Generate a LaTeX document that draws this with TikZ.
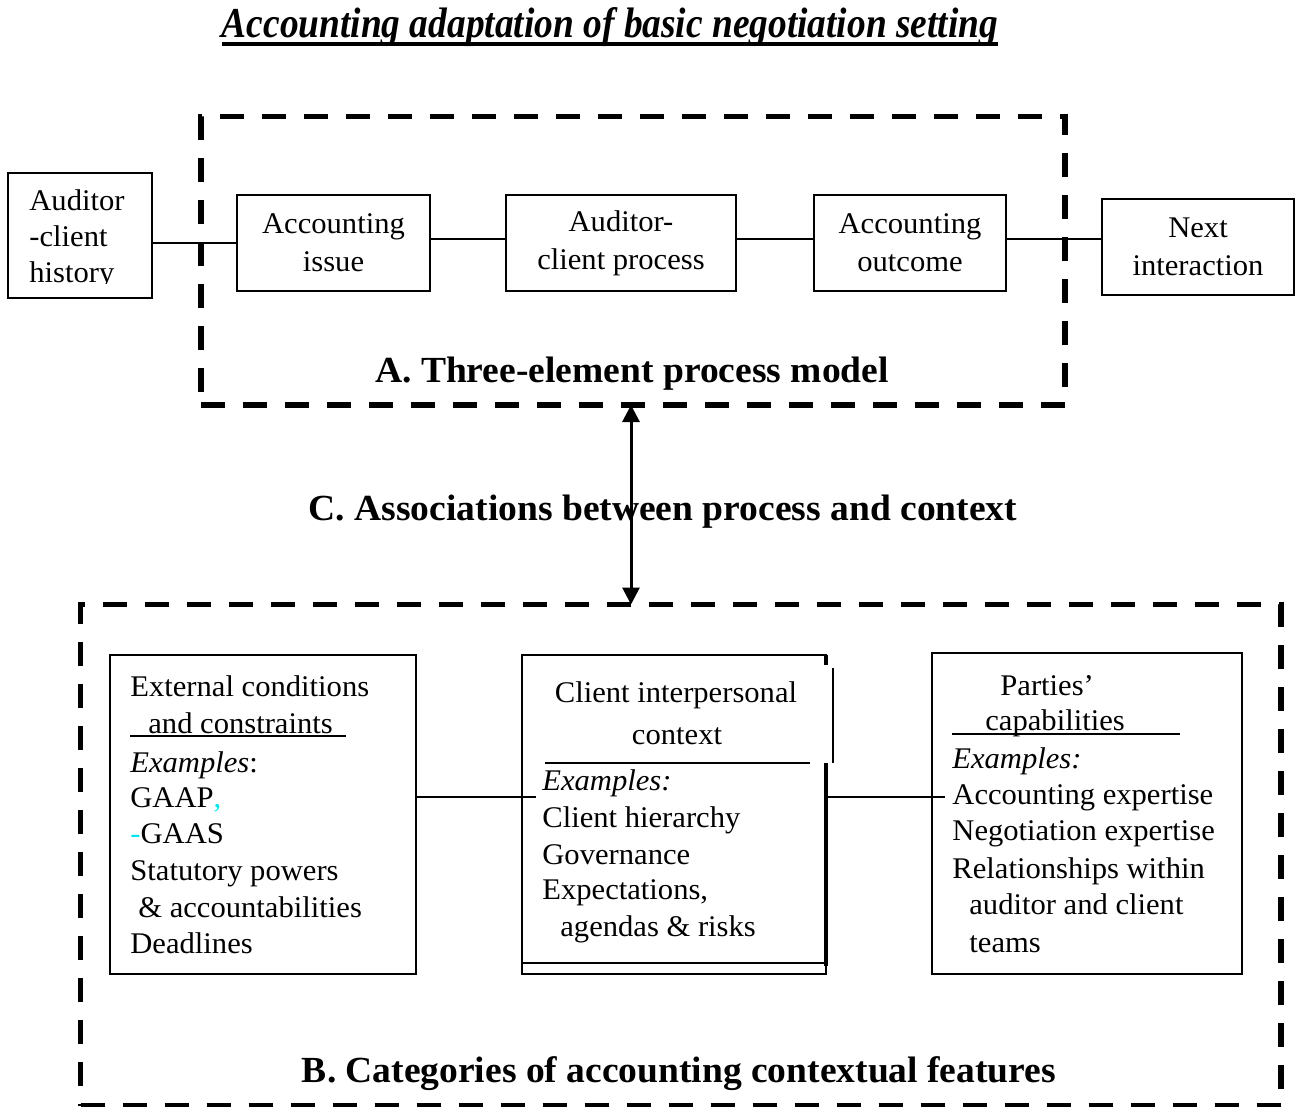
\documentclass[tikz,border=0pt]{standalone}
\usepackage{fontspec}
\setmainfont{Liberation Serif}[FakeStretch=1.02]
\usepackage{graphicx}
\usetikzlibrary{arrows.meta}
\definecolor{brightcyan}{RGB}{0,230,240}
\begin{document}
\begin{tikzpicture}[x=0.5pt,y=-0.5pt,
  box/.style={draw, line width=1pt, inner sep=0pt, outer sep=0pt, align=center, font=\fontsize{15pt}{19pt}\selectfont},
  dbox/.style={draw, line width=2.6pt, dash pattern=on 12pt off 9pt, inner sep=0pt, outer sep=0pt},
  txt/.style={inner sep=0pt, font=\fontsize{15pt}{18pt}\selectfont, anchor=base west},
  ctxt/.style={inner sep=0pt, font=\fontsize{15pt}{18pt}\selectfont, anchor=base},
  lbl/.style={inner sep=0pt, font=\fontsize{18.4pt}{22pt}\selectfont\bfseries, anchor=base},
  link/.style={line width=0.9pt},
  tip/.tip={Triangle[length=8.5pt,width=8.5pt]}]
\useasboundingbox (0,0) rectangle (1296,1107);

% title
\node[inner sep=0pt, anchor=base] (title) at (610,38) {\resizebox{388pt}{15pt}{\bfseries\itshape Accounting adaptation of basic negotiation setting}};
\draw[line width=2pt] ([yshift=-3pt]title.base west) -- ([yshift=-3pt]title.base east);

% dashed frames
\node[dbox, minimum width=432pt, minimum height=144.25pt] (Abox) at (633,260.75) {};
\node[dbox, minimum width=600.25pt, minimum height=250.75pt] (Bbox) at (680.75,855.25) {};

% process row
\node[box, minimum width=72pt, minimum height=62.5pt] (hist) at (80,235.5) {};
\node[txt] (h1) at (29,211) {Auditor};
\node[txt] (h2) at (29,247) {-client};
\begin{scope}
  \clip (8,173) rectangle (152,284);
  \node[txt] (h3) at (29,283) {history};
\end{scope}
\node[box, minimum width=96.5pt, minimum height=48pt] (iss) at (333.5,243) {Accounting\\issue};
\node[box, minimum width=115pt, minimum height=48pt] (proc) at (621,243) {Auditor-\\client process};
\node[box, minimum width=96pt, minimum height=48pt] (out) at (910,243) {Accounting\\outcome};
\node[box, minimum width=96pt, minimum height=48pt] (next) at (1198,247) {Next\\interaction};

\draw[link] (iss.west -| hist.east) -- (iss.west);
\draw[link] ([yshift=2pt]iss.east) -- ([yshift=2pt]proc.west);
\draw[link] ([yshift=2pt]proc.east) -- ([yshift=2pt]out.west);
\coordinate (o1) at ([yshift=2pt]out.east);
\draw[link] (o1) -- (o1 -| next.west);

% labels
\node[lbl] (labA) at (632,382) {A. Three-element process model};
\node[lbl] (labC) at (663,520) {C. Associations between process and context};
\node[lbl] (labB) at (679,1082) {B. Categories of accounting contextual features};

% arrow
\coordinate (aT) at ([xshift=-1pt]Abox.south);
\draw[line width=1.5pt, tip-tip] (aT) -- (aT |- Bbox.north);

% context boxes
\node[box, minimum width=153pt, minimum height=159.5pt] (ext) at (263,814.5) {};
\node[inner sep=0pt, outer sep=0pt, minimum width=152pt, minimum height=159.5pt] (mid) at (674,814.5) {};
\node[box, minimum width=155pt, minimum height=160.5pt] (cap) at (1087,813.5) {};

% middle box irregular border
\draw[line width=1pt] (826,665) -- (826,655) -- (522,655) -- (522,974) -- (826,974) -- (826,963);
\draw[line width=2pt] (826,655) -- (826,665) (826,763) -- (826,966);
\draw[line width=1.2pt] (522,963) -- (826,963);
\draw[line width=1pt] (833,668) -- (833,763);
\draw[line width=1pt] (545,763) -- (810,763);

\coordinate (e1) at ([yshift=8.75pt]ext.east);
\draw[link] (e1) -- (e1 -| mid.west) -- ++(7pt,0);
\coordinate (m1) at ([yshift=8.75pt]mid.east);
\draw[link] (m1) -- (m1 -| cap.west) -- ++(6.5pt,0);

% external conditions text
\node[txt] (ext1) at (130,696) {External conditions};
\node[txt] (ext2) at (148,733) {and constraints};
\draw[link] (130,736) -- (346,736);
\node[txt] (ext3) at (130,772) {\textit{Examples}:};
\node[txt] (ext4) at (130,807) {GAAP\textcolor{brightcyan}{,}};
\node[txt] (ext5) at (130,843) {\textcolor{brightcyan}{-}GAAS};
\node[txt] (ext6) at (130,880) {Statutory powers};
\node[txt] (ext7) at (138,917) {\& accountabilities};
\node[txt] (ext8) at (130,953) {Deadlines};

% client interpersonal text
\node[ctxt] (mid1) at (676,702) {Client interpersonal};
\node[ctxt] (mid2) at (677,744) {context};
\node[txt] (mid3) at (542,790) {\textit{Examples:}};
\node[txt] (mid4) at (542,827) {Client hierarchy};
\node[txt] (mid5) at (542,864) {Governance};
\node[txt] (mid6) at (542,899) {Expectations,};
\node[txt] (mid7) at (560,936) {agendas \& risks};

% capabilities text
\node[txt] (cap1) at (1000,695) {Parties’};
\node[txt] (cap2) at (985,730) {capabilities};
\draw[link] (952,734) -- (1180,734);
\node[txt] (cap3) at (952,768) {\textit{Examples:}};
\node[txt] (cap4) at (952,804) {Accounting expertise};
\node[txt] (cap5) at (952,840) {Negotiation expertise};
\node[txt] (cap6) at (952,878) {Relationships within};
\node[txt] (cap7) at (969,914) {auditor and client};
\node[txt] (cap8) at (969,952) {teams};
\end{tikzpicture}
\end{document}
